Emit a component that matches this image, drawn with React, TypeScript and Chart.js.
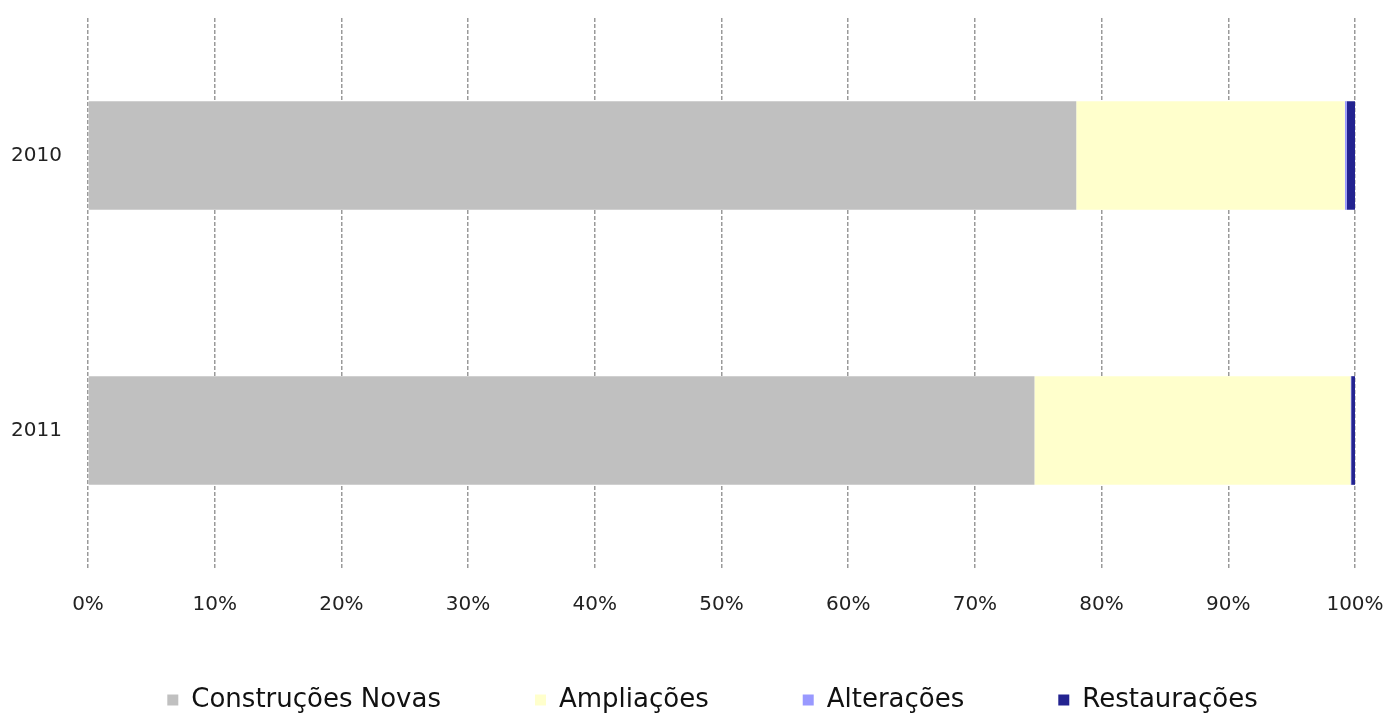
import React, { useEffect, useRef } from "react";
import { Chart, registerables } from "chart.js";

Chart.register(...registerables);

const categories = ["2010", "2011"];
const seriesNames = ["Construções Novas", "Ampliações", "Alterações", "Restaurações"];
const construcoesNovas = [78.0, 74.7];
const ampliacoes = [21.2, 24.95];
const alteracoes = [0.15, 0.05];
const restauracoes = [0.65, 0.3];
const seriesColors = ["#C0C0C0", "#FFFFCC", "#9999FF", "#232390"];
const xTickValues = [0, 10, 20, 30, 40, 50, 60, 70, 80, 90, 100];

const FONT = "'DejaVu Sans', 'Liberation Sans', Arial, sans-serif";

const legendShift = {
  id: "legendShift",
  afterLayout(chart: any) {
    const lg = chart.legend;
    if (!lg) return;
    lg.top = lg.bottom - 123;
    lg.left += 35;
    lg.right += 35;
  },
};

export default function App() {
  const ref = useRef<HTMLCanvasElement | null>(null);

  useEffect(() => {
    if (!ref.current) return;
    const values = [construcoesNovas, ampliacoes, alteracoes, restauracoes];
    const chart = new Chart(ref.current, {
      type: "bar",
      data: {
        labels: categories,
        datasets: seriesNames.map((name, i) => ({
          label: name,
          data: values[i],
          backgroundColor: seriesColors[i],
          borderWidth: 0,
          categoryPercentage: 1,
          barPercentage: 0.395,
        })),
      },
      options: {
        indexAxis: "y",
        animation: false,
        responsive: true,
        maintainAspectRatio: false,
        layout: { padding: { top: 18, right: 30, left: 0, bottom: 0 } },
        scales: {
          x: {
            stacked: true,
            min: 0,
            max: 100,
            afterBuildTicks: (scale: any) => {
              scale.ticks = xTickValues.map((v) => ({ value: v }));
            },
            afterFit: (scale: any) => {
              scale.height = 49;
              scale.paddingLeft = 0;
              scale.paddingRight = 0;
            },
            ticks: {
              callback: (v: any) => `${v}%`,
              padding: 25,
              color: "#222",
              font: { family: FONT, size: 20 },
              maxRotation: 0,
            },
            grid: {
              color: "#9a9a9a",
              lineWidth: 1.5,
              drawTicks: false,
            },
            border: { display: false, dash: [4, 2] },
          },
          y: {
            stacked: true,
            afterFit: (scale: any) => {
              scale.width = 88;
              scale.paddingTop = 0;
              scale.paddingBottom = 0;
            },
            ticks: {
              padding: 26,
              color: "#222",
              font: { family: FONT, size: 20 },
            },
            grid: { display: false, drawTicks: false },
            border: { display: false },
          },
        },
        plugins: {
          legend: {
            position: "bottom",
            maxHeight: 99,
            labels: {
              boxWidth: 11,
              boxHeight: 11,
              padding: 94,
              color: "#111",
              font: { family: FONT, size: 26 },
            },
          },
          tooltip: { enabled: false },
          title: { display: false },
        },
      },
      plugins: [legendShift],
    } as any);
    return () => chart.destroy();
  }, []);

  return (
    <div style={{ position: "fixed", left: 0, top: 0, width: 1385, height: 716, background: "#fff" }}>
      <canvas ref={ref} style={{ display: "block" }} />
    </div>
  );
}
